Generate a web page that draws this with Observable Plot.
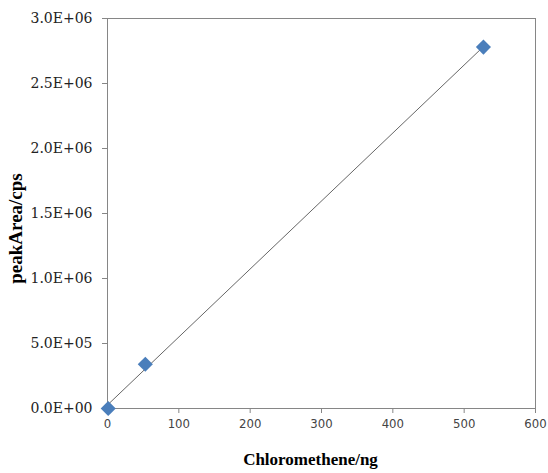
<!DOCTYPE html>
<html><head><meta charset="utf-8">
<script src="https://cdn.jsdelivr.net/npm/d3@7"></script>
<script src="https://cdn.jsdelivr.net/npm/@observablehq/plot@0.6"></script>
<style>body{margin:0;background:#fff}</style>
</head><body><div id="chart"></div>
<script>
const xValues = [1, 53, 527];
const yValues = [0, 340000, 2780000];
const xTicks = [0, 100, 200, 300, 400, 500, 600];
const yTicks = [0, 500000, 1000000, 1500000, 2000000, 2500000, 3000000];
const xLabel = "Chloromethene/ng";
const yLabel = "peakArea/cps";

const data = xValues.map((x, i) => ({x, y: yValues[i]}));
const fmtE = d => {
  const e = d === 0 ? 0 : Math.floor(Math.log10(Math.abs(d)));
  const m = d / Math.pow(10, e);
  return `${m.toFixed(1)}E${e < 0 ? "-" : "+"}${String(Math.abs(e)).padStart(2, "0")}`;
};
const serif = "Liberation Serif, DejaVu Serif, serif";
const tickSerif = "DejaVu Serif, Liberation Serif, serif";
const sans = "DejaVu Sans Condensed, Liberation Sans Narrow, Liberation Sans, sans-serif";

const chart = Plot.plot({
  width: 548, height: 473,
  marginLeft: 107, marginRight: 13, marginTop: 18, marginBottom: 65,
  style: {background: "#fff"},
  x: {domain: [0, 600]},
  y: {domain: [0, 3000000]},
  marks: [
    Plot.frame({stroke: "#868686", strokeWidth: 1}),
    Plot.axisY({ticks: yTicks, tickFormat: () => "", tickSize: 5, stroke: "#868686", label: null}),
    Plot.axisX({ticks: xTicks, tickFormat: () => "", tickSize: 5, stroke: "#868686", label: null}),
    Plot.text(yTicks, {y: d => d, text: fmtE, frameAnchor: "left", textAnchor: "end", lineAnchor: "middle", dx: -15,
      fontFamily: tickSerif, fontSize: 14, fill: "#222"}),
    Plot.text(xTicks, {x: d => d, text: d => String(d), frameAnchor: "bottom", textAnchor: "middle", lineAnchor: "top", dy: 10,
      fontFamily: sans, fontSize: 13, fill: "#444"}),
    Plot.linearRegressionY(data, {x: "x", y: "y", ci: 0, stroke: "#666", strokeWidth: 1}),
    Plot.dot(data, {x: "x", y: "y", symbol: "diamond2", r: 6.8, fill: "#4a7ebb", stroke: "none"}),
    Plot.text([xLabel], {frameAnchor: "bottom", lineAnchor: "middle", textAnchor: "middle", dx: -11, dy: 51,
      fontFamily: serif, fontWeight: "bold", fontSize: 17, fill: "#000"}),
    Plot.text([yLabel], {frameAnchor: "left", lineAnchor: "middle", textAnchor: "middle", dx: -92, dy: 15, rotate: -90,
      fontFamily: serif, fontWeight: "bold", fontSize: 19, fill: "#000"})
  ]
});
document.getElementById("chart").append(chart);
</script>
</body></html>
